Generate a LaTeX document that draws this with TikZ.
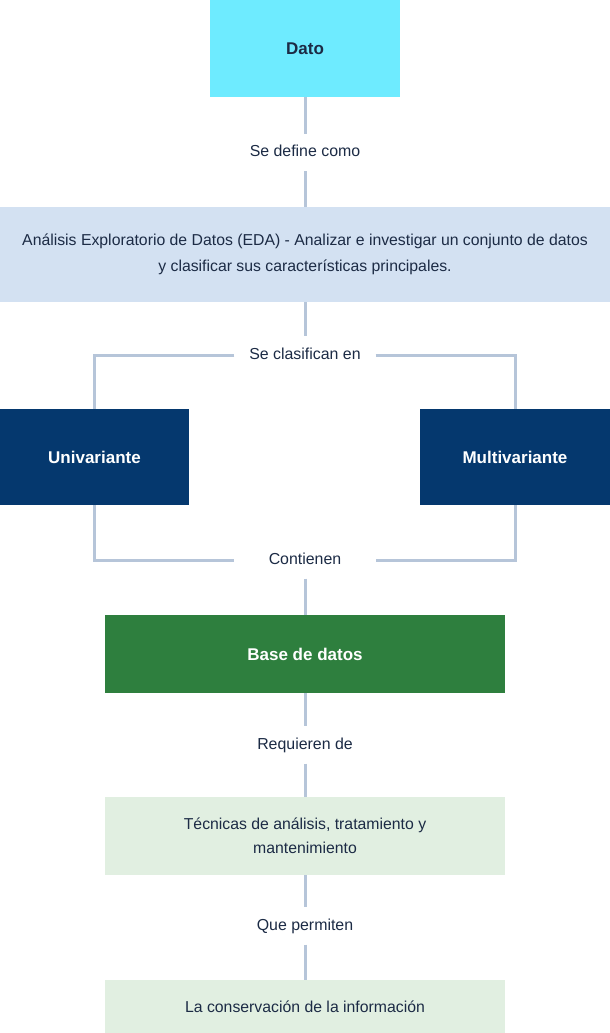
\documentclass[tikz,border=0pt]{standalone}
\usepackage{fontspec}
\setmainfont{Liberation Sans}
\usepackage{tikz}
\usetikzlibrary{positioning}
\definecolor{datocyan}{RGB}{110,235,255}
\definecolor{edablue}{RGB}{211,225,242}
\definecolor{navy}{RGB}{5,56,110}
\definecolor{basegreen}{RGB}{46,127,62}
\definecolor{palegreen}{RGB}{225,239,225}
\definecolor{linkgray}{RGB}{182,197,217}
\definecolor{ink}{RGB}{28,43,69}
\tikzstyle{box}=[rectangle, inner sep=0pt, align=center, text=ink,
  font=\fontsize{15.8}{26}\selectfont]
\tikzstyle{title}=[box, font=\fontsize{17}{26}\selectfont\bfseries]
\tikzstyle{tag}=[rectangle, fill=white, inner xsep=0pt, inner ysep=11.5pt,
  minimum width=141pt, text height=11pt, text depth=3pt, text=ink,
  font=\fontsize{15.9}{18}\selectfont]
\tikzstyle{link}=[draw=linkgray, line width=3pt]

\begin{document}
\begin{tikzpicture}[x=1pt,y=-1pt]
    \useasboundingbox (0,0) rectangle (610,1033);
    % boxes
    \node (dato) [title, fill=datocyan, minimum width=190pt, minimum height=97pt] at (305,48.5) {Dato};
    \node (eda) [box, fill=edablue, minimum width=610pt, minimum height=95pt] at (305,254.5)
      {Análisis Exploratorio de Datos (EDA) - Analizar e investigar un conjunto de datos\\
       y clasificar sus características principales.};
    \node (uni) [title, fill=navy, text=white, minimum width=189pt, minimum height=96pt] at (94.5,457) {Univariante};
    \node (multi) [title, fill=navy, text=white, minimum width=190pt, minimum height=96pt] at (515,457) {Multivariante};
    \node (base) [title, fill=basegreen, text=white, minimum width=400pt, minimum height=78pt] at (305,654) {Base de datos};
    \node (tec) [box, fill=palegreen, minimum width=400pt, minimum height=78pt,
      font=\fontsize{15.8}{24}\selectfont] at (305,836)
      {Técnicas de análisis, tratamiento y\\ mantenimiento};
    \node (cons) [box, fill=palegreen, minimum width=400pt, minimum height=53pt] at (305,1006.5)
      {La conservación de la información};
    % connector labels
    \node (l1) [tag] at (305,152.5) {Se define como};
    \node (l2) [tag] at (305,355) {Se clasifican en};
    \node (l3) [tag] at (305,560) {Contienen};
    \node (l4) [tag] at (305,745) {Requieren de};
    \node (l5) [tag] at (305,926) {Que permiten};
    % connectors
    \path[link]
    (dato) edge (l1)
    (l1) edge (eda)
    (eda) edge (l2)
    (l3) edge (base)
    (base) edge (l4)
    (l4) edge (tec)
    (tec) edge (l5)
    (l5) edge (cons);
    \draw[link] (l2) -| (uni);
    \draw[link] (l2) -| (multi);
    \draw[link] (uni) |- (l3);
    \draw[link] (multi) |- (l3);
  \end{tikzpicture}
\end{document}
